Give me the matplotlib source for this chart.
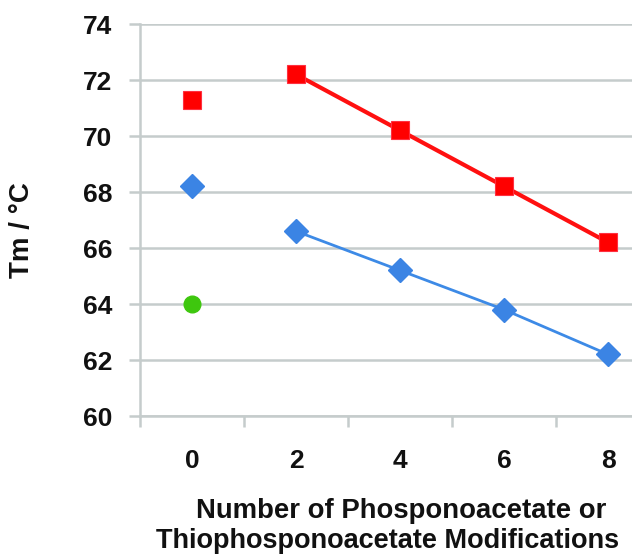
import numpy as np
import matplotlib
matplotlib.use('Agg')
import matplotlib.pyplot as plt

plt.rcParams['font.family'] = ['Liberation Sans', 'DejaVu Sans']

# Datos
modificaciones = ['0', '2', '4', '6', '8']
tm_rojo = [71.3, 72.2, 70.2, 68.2, 66.2]
tm_azul = [68.2, 66.6, 65.2, 63.8, 62.2]
tm_verde = [64.0]

pos = np.arange(len(modificaciones))

W, H = 632, 555
fig = plt.figure(figsize=(W / 100, H / 100), dpi=100)
ax = fig.add_axes([140 / W, 139 / H, 1 - 140 / W, 392 / H])

gris = '#c5cccc'

# Series: el punto en 0 no va unido a la linea
ax.plot(pos[1:], tm_rojo[1:], '-', color='#ff1010', lw=3.0, zorder=3)
ax.plot(pos, tm_rojo, 's', color='#ff0000', ms=13, mec='#ff3040', mew=0.8, zorder=4)
ax.plot(pos[1:], tm_azul[1:], '-', color='#3d8ae6', lw=2.0, zorder=3)
ax.plot(pos, tm_azul, 'D', color='#3b84e4', ms=12, mec='#3b84e4', zorder=4)
ax.plot(pos[:1], tm_verde, 'o', color='#3ec70e', ms=12, zorder=4)

ax.set_yticks(np.arange(60, 75, 2))
ax.set_xticks(pos)
ax.set_xticklabels(modificaciones)
ax.set_xticks(np.arange(-0.5, 5, 1), minor=True)
ax.set_ylim(60, 74)
ax.set_xlim(-0.5, (W - 140) / 104 - 0.5)

ax.grid(axis='y', color=gris, lw=1.8, zorder=0)
ax.set_axisbelow(True)
for lado in ['top', 'right']:
    ax.spines[lado].set_visible(False)
for lado in ['left', 'bottom']:
    ax.spines[lado].set_color(gris)
    ax.spines[lado].set_linewidth(1.8)

ax.tick_params(axis='x', which='major', length=0, pad=24, labelsize=19, labelcolor='#111111')
ax.tick_params(axis='x', which='minor', length=8, width=1.8, color=gris)
ax.tick_params(axis='y', length=8, width=1.8, color=gris, pad=12, labelsize=19, labelcolor='#111111')
for t in ax.get_xticklabels() + ax.get_yticklabels():
    t.set_fontweight('bold')

# Titulos de ejes
fig.text(22 / W, 1 - 230 / H, 'Tm / °C', rotation=90, ha='center', va='center',
         fontsize=20, fontweight='bold', color='#111111')
fig.text(401 / W, 1 - 518 / H, 'Number of Phosponoacetate or', ha='center', va='baseline',
         fontsize=19.8, fontweight='bold', color='#111111')
fig.text(388 / W, 1 - 548 / H, 'Thiophosponoacetate Modifications', ha='center', va='baseline',
         fontsize=19.5, fontweight='bold', color='#111111')

fig.savefig('out.png', dpi=100)
